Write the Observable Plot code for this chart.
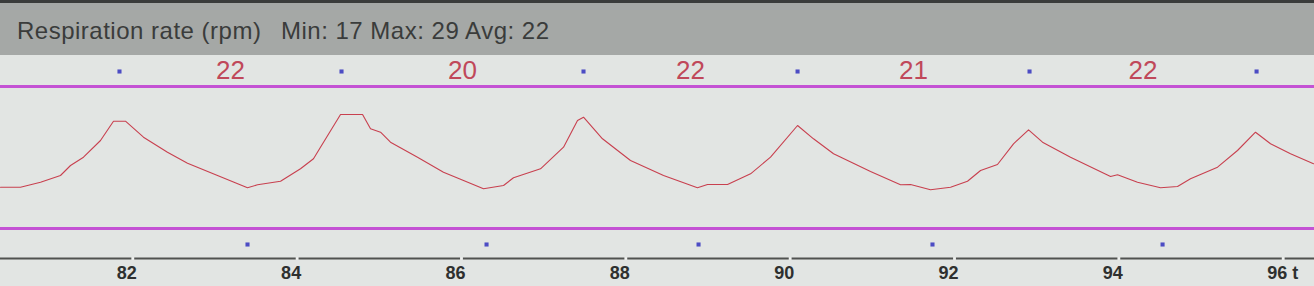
<!DOCTYPE html>
<html>
<head>
<meta charset="utf-8">
<script src="https://cdn.jsdelivr.net/npm/d3@7"></script>
<script src="https://cdn.jsdelivr.net/npm/@observablehq/plot@0.6"></script>
<style>
  html, body { margin: 0; padding: 0; width: 1314px; height: 286px; overflow: hidden; background: #e2e5e3; }
  #hdr { position: relative; height: 55px; background: linear-gradient(#3a3c3b 0 3px, #a5a8a6 3px); }
  #hdr span { position: absolute; top: 17px; line-height: 24px; font: 24px "Liberation Sans", Arial, sans-serif; letter-spacing: 0.5px; color: #3a3c3b; white-space: pre; }
  #chart svg { display: block; }
</style>
</head>
<body>
<div id="hdr"><span id="title" style="left:17px"></span><span id="stats" style="left:281px"></span></div>
<div id="chart"></div>
<script>
// ---- data ----
const title = "Respiration rate (rpm)";
const stats = "Min: 17 Max: 29 Avg: 22";

// time (s) of waveform samples
const time = [80.390, 80.633, 80.877, 81.120, 81.242, 81.400, 81.607, 81.765, 81.911, 82.130,
  82.422, 82.666, 83.031, 83.396, 83.518, 83.798, 84.041, 84.199, 84.284, 84.528,
  84.796, 84.893, 85.015, 85.136, 85.465, 85.781, 86.025, 86.268, 86.512, 86.633,
  86.962, 87.242, 87.412, 87.485, 87.716, 88.057, 88.459, 88.872, 88.994, 89.238,
  89.518, 89.761, 90.090, 90.284, 90.528, 90.978, 91.343, 91.465, 91.708, 91.952,
  92.158, 92.317, 92.523, 92.718, 92.901, 93.071, 93.412, 93.899, 93.984, 94.227,
  94.507, 94.714, 94.872, 95.201, 95.444, 95.663, 95.846, 96.089, 96.369];
// respiration amplitude (arbitrary units, band 0..142)
const amplitude = [41.3, 41.3, 46.3, 53, 63, 71.3, 88, 107.3, 107.3, 91.3,
  76.3, 65.3, 53, 40.7, 43.7, 47.3, 59.7, 69.7, 81.3, 114,
  114, 99.7, 96.3, 86.3, 71.3, 56.3, 48, 39.7, 43, 50.7,
  59.7, 81.3, 108, 111.3, 89.7, 68, 53, 40.7, 44, 44,
  54.7, 71.3, 103, 89.7, 74.7, 57, 43.7, 44, 38.7, 41.3,
  47.3, 58, 64, 84.7, 98.7, 86.3, 71.3, 52, 53.7, 46.3,
  40.7, 42, 49.7, 61.3, 78, 96.3, 84.7, 74.7, 64.7];

const bandLimits = [0, 142];
const peakMarks = [81.838, 84.540, 87.485, 90.090, 92.913, 95.676];
const troughMarks = [83.396, 86.305, 88.885, 91.732, 94.532];
const rates = [22, 20, 22, 21, 22];
const tickValues = [82, 84, 86, 88, 90, 92, 94, 96];
const xUnit = "t";

// ---- build ----
document.getElementById("title").textContent = title;
document.getElementById("stats").textContent = stats;

const wave = time.map((t, i) => ({t, v: amplitude[i]}));
const rateRows = d3.pairs(peakMarks).map(([a, b], i) => ({t: (a + b) / 2, rate: rates[i]}));

const bg = "#e2e5e3";
const sans = "'Liberation Sans', Arial, sans-serif";
const plot = Plot.plot({
  width: 1314,
  height: 231,
  marginTop: 0,
  marginBottom: 28,
  marginLeft: 0,
  marginRight: 0,
  x: {domain: [80.39, 96.381], axis: null},
  y: {domain: bandLimits, range: [173, 31], axis: null},
  style: {background: bg, overflow: "visible"},
  marks: [
    Plot.ruleY(bandLimits, {stroke: "#c452d4", strokeWidth: 3}),
    Plot.line(wave, {x: "t", y: "v", stroke: "#c8404f", strokeWidth: 1.1}),
    Plot.dot(peakMarks, {x: d => d, frameAnchor: "top", dy: 16, symbol: "square", r: 2.3, fill: "#4c4cc4", stroke: "none"}),
    Plot.dot(troughMarks, {x: d => d, frameAnchor: "bottom", dy: -14, symbol: "square", r: 2.3, fill: "#4c4cc4", stroke: "none"}),
    Plot.text(rateRows, {x: "t", text: "rate", frameAnchor: "top", dy: 15.5, lineAnchor: "middle", fontSize: 26,
      fill: "#c0485a", fontFamily: sans, ariaLabel: "rate"}),
    Plot.frame({anchor: "bottom", stroke: "#505250", strokeWidth: 2}),
    Plot.dot(tickValues, {x: d => d, frameAnchor: "bottom", symbol: "square", r: 1.6, fill: "#f0f2f0", stroke: "none"}),
    Plot.text(tickValues, {x: d => d, text: d => String(d), frameAnchor: "bottom", dy: 14.5, dx: -6, lineAnchor: "middle",
      fontSize: 18, fontWeight: "bold", fill: "#2e302f", fontFamily: sans, ariaLabel: "ticklabel"}),
    Plot.text([xUnit], {x: tickValues[tickValues.length - 1], text: d => d, frameAnchor: "bottom", dy: 14.5, dx: 9, lineAnchor: "middle",
      textAnchor: "start", fontSize: 18, fontWeight: "bold", fill: "#2e302f", fontFamily: sans})
  ]
});
// condense the narrow display fonts of the monitor
d3.select(plot).selectAll('g[aria-label="rate"] text').each(function () {
  const tr = this.getAttribute("transform") || "";
  this.setAttribute("transform", tr + " scale(0.83,1)");
});
d3.select(plot).selectAll('g[aria-label="ticklabel"] text').each(function () {
  const tr = this.getAttribute("transform") || "";
  this.setAttribute("transform", tr + " scale(0.92,1)");
});
document.getElementById("chart").appendChild(plot);
</script>
</body>
</html>
